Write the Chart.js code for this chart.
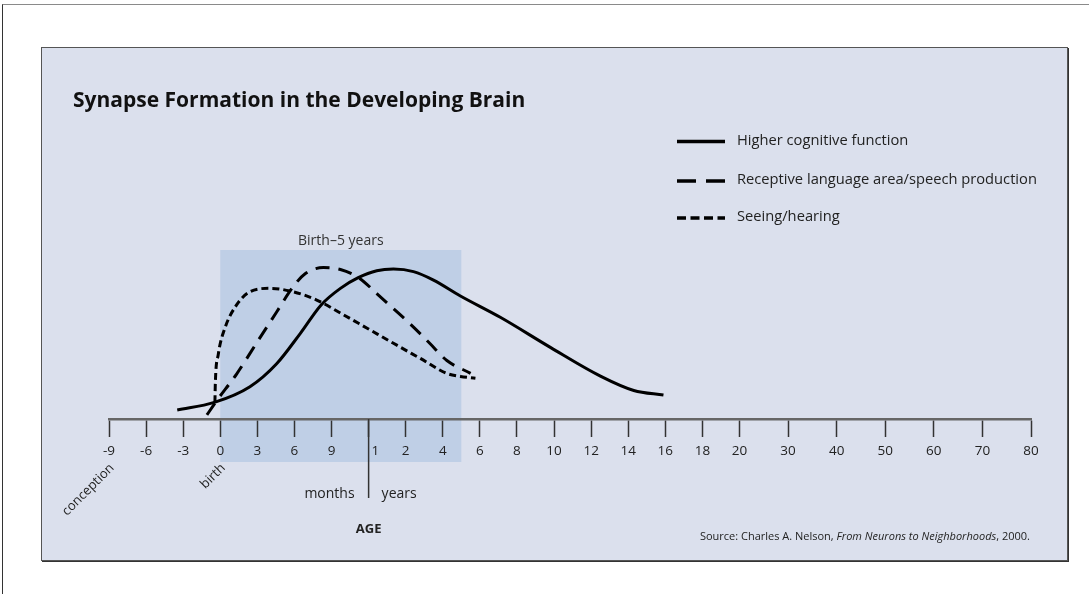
<!DOCTYPE html>
<html>
<head>
<meta charset="utf-8">
<script src="https://cdn.jsdelivr.net/npm/chart.js@4.4.1/dist/chart.umd.min.js"></script>
<style>
	html, body { margin: 0; padding: 0; background: #fff; }
	body { width: 1089px; height: 594px; position: relative; overflow: hidden; }
	#frame {
		position: absolute; left: 2px; top: 4px; right: -2px; bottom: -2px;
		border-top: 1px solid #8a8a8a; border-left: 1px solid #333;
	}
	#panel {
		position: absolute; left: 41px; top: 47px; width: 1025px; height: 512px;
		background: #dbe0ed; border: 1px solid #555;
		box-shadow: 1px 1px 0 #333;
	}
	#chart { position: absolute; left: 0; top: 0; }
</style>
</head>
<body>
<div id="frame"></div>
<div id="panel"></div>
<canvas id="chart" width="1089" height="594"></canvas>
<script>
// x axis: ages in years, labelled in months before the 1-year mark
const TICK_AGES = [-0.75, -0.5, -0.25, 0, 0.25, 0.5, 0.75, 1, 2, 4, 6, 8, 10, 12, 14, 16, 18, 20, 30, 40, 50, 60, 70, 80];
const TICK_LABELS = [`-9`, `-6`, `-3`, `0`, `3`, `6`, `9`, `1`, `2`, `4`, `6`, `8`, `10`, `12`, `14`, `16`, `18`, `20`, `30`, `40`, `50`, `60`, `70`, `80`];

// series (age in years, relative synapse formation)
const COGNITIVE_AGE = [-0.29, -0.04, 0.2, 0.38, 0.54, 0.68, 0.81, 0.93, 1.22, 1.67, 2.42, 3.5, 4.95, 7.1, 9.8, 12.5, 14.3, 15.9];
const COGNITIVE_VAL = [5.3, 9.8, 19.1, 32.7, 50.7, 67.5, 77.3, 83.6, 87.7, 88.7, 87.2, 82.2, 72.8, 60.2, 42.4, 25.4, 16.9, 14.2];

const LANGUAGE_AGE = [-0.09, -0.025, 0.11, 0.245, 0.38, 0.49, 0.57, 0.695, 0.81, 0.94, 1.22, 1.67, 2.42, 3.32, 4.22, 5.5];
const LANGUAGE_VAL = [2.4, 10.7, 26.6, 45, 63.3, 78.1, 85.8, 89.6, 88.5, 83.2, 74.2, 65.3, 54.4, 44.5, 34.6, 27];

const SEEING_AGE = [-0.036, -0.033, -0.014, 0.031, 0.11, 0.2, 0.335, 0.49, 0.65, 0.81, 0.99, 1.67, 2.78, 4.22, 4.95, 5.76];
const SEEING_VAL = [10, 21.9, 37.9, 53.7, 67.5, 75.3, 77.3, 75.3, 70.4, 62.7, 53.7, 44.8, 35.9, 27, 25.2, 24.1];

const BAND_AGES = [0, 5];

const FONT = `"Open Sans", "Noto Sans", sans-serif`;

// ticks sit on equal slots up to 20, then a bit wider apart
function tickSlot(i) {
	return i <= 17 ? i : 17 + 1.31 * (i - 17);
};

function ageToSlot(age) {
	let i = 0;
	while (i < TICK_AGES.length - 2 && age > TICK_AGES[i + 1]) {
		i++;
	};
	const a0 = TICK_AGES[i], a1 = TICK_AGES[i + 1];
	const s0 = tickSlot(i), s1 = tickSlot(i + 1);
	return s0 + (age - a0) / (a1 - a0) * (s1 - s0);
};

function toPoints(ages, vals) {
	return ages.map((age, i) => ({ x: ageToSlot(age), y: vals[i] }));
};

const series = [
	{ label: `Higher cognitive function`, ages: COGNITIVE_AGE, vals: COGNITIVE_VAL, dash: [], legendDash: [] },
	{ label: `Receptive language area/speech production`, ages: LANGUAGE_AGE, vals: LANGUAGE_VAL, dash: [14, 9], legendDash: [19, 10] },
	{ label: `Seeing/hearing`, ages: SEEING_AGE, vals: SEEING_VAL, dash: [7, 4], legendDash: [9, 4.5] },
];

const decor = {
	id: `decor`,
	beforeDraw(chart) {
		const { ctx, scales: { x, y } } = chart;
		const left = x.getPixelForValue(ageToSlot(BAND_AGES[0]));
		const right = x.getPixelForValue(ageToSlot(BAND_AGES[1]));
		const top = y.getPixelForValue(100);
		const bottom = y.getPixelForValue(0) + 43;
		ctx.save();
		ctx.fillStyle = `#bfcfe6`;
		ctx.fillRect(left, top, right - left, bottom - top);
		ctx.fillStyle = `#333`;
		ctx.font = `14px ${FONT}`;
		ctx.textAlign = `center`;
		ctx.textBaseline = `alphabetic`;
		ctx.fillText(`Birth\u20135 years`, (left + right) / 2, top - 5);
		ctx.restore();
	},
	afterDraw(chart) {
		const { ctx, scales: { x, y } } = chart;
		const axisY = y.getPixelForValue(0);
		ctx.save();

		// title
		ctx.fillStyle = `#111`;
		ctx.font = `bold 21px ${FONT}`;
		ctx.textAlign = `left`;
		ctx.textBaseline = `alphabetic`;
		ctx.fillText(`Synapse Formation in the Developing Brain`, 73, 107);

		// legend
		const rows = [141.5, 181, 218];
		chart.data.datasets.forEach((ds, i) => {
			ctx.strokeStyle = `#000`;
			ctx.lineWidth = 3.5;
			ctx.setLineDash(series[i].legendDash);
			ctx.beginPath();
			ctx.moveTo(677, rows[i]);
			ctx.lineTo(725, rows[i]);
			ctx.stroke();
			ctx.setLineDash([]);
			ctx.fillStyle = `#222`;
			ctx.font = `14.7px ${FONT}`;
			ctx.textBaseline = `middle`;
			ctx.fillText(ds.label, 737, rows[i] - 1);
		});

		// months | years divider
		const oneYear = x.getPixelForValue(ageToSlot(1));
		ctx.strokeStyle = `#333`;
		ctx.lineWidth = 1.5;
		ctx.beginPath();
		ctx.moveTo(oneYear, axisY);
		ctx.lineTo(oneYear, 498);
		ctx.stroke();
		ctx.fillStyle = `#222`;
		ctx.font = `13.5px ${FONT}`;
		ctx.textAlign = `left`;
		ctx.textBaseline = `middle`;
		ctx.fillText(`1`, oneYear + 3, 451);
		ctx.font = `14px ${FONT}`;
		ctx.textAlign = `right`;
		ctx.fillText(`months`, oneYear - 14, 494);
		ctx.textAlign = `left`;
		ctx.fillText(`years`, oneYear + 13, 494);

		ctx.font = `bold 13px ${FONT}`;
		ctx.textAlign = `center`;
		ctx.fillText(`AGE`, oneYear, 529);

		// rotated notes under conception and birth
		const notes = [[`conception`, TICK_AGES[0]], [`birth`, 0]];
		ctx.font = `13px ${FONT}`;
		for (const [text, age] of notes) {
			const px = x.getPixelForValue(ageToSlot(age));
			ctx.save();
			ctx.translate(px + 3, 466);
			ctx.rotate(-Math.PI / 4);
			ctx.textAlign = `right`;
			ctx.textBaseline = `middle`;
			ctx.fillText(text, 0, 0);
			ctx.restore();
		};

		// source
		ctx.textBaseline = `alphabetic`;
		ctx.textAlign = `left`;
		const parts = [
			[`Source: Charles A. Nelson, `, `11px`],
			[`From Neurons to Neighborhoods`, `italic 11px`],
			[`, 2000.`, `11px`],
		];
		let total = 0;
		for (const [t, f] of parts) {
			ctx.font = `${f} ${FONT}`;
			total += ctx.measureText(t).width;
		};
		let sx = 1030 - total;
		for (const [t, f] of parts) {
			ctx.font = `${f} ${FONT}`;
			ctx.fillText(t, sx, 540);
			sx += ctx.measureText(t).width;
		};
		ctx.restore();
	},
};

new Chart(document.getElementById(`chart`), {
	type: `line`,
	data: {
		datasets: series.map(s => ({
			label: s.label,
			data: toPoints(s.ages, s.vals),
			borderColor: `#000`,
			borderWidth: 3,
			borderDash: s.dash,
			borderCapStyle: `butt`,
			cubicInterpolationMode: `monotone`,
			pointRadius: 0,
			fill: false,
		})),
	},
	options: {
		responsive: false,
		devicePixelRatio: 1,
		animation: false,
		layout: {
			padding: { left: 109, right: 58, top: 250, bottom: 135 },
		},
		plugins: {
			legend: { display: false },
			tooltip: { enabled: false },
		},
		scales: {
			x: {
				type: `linear`,
				min: tickSlot(0),
				max: tickSlot(TICK_AGES.length - 1),
				afterBuildTicks(scale) {
					scale.ticks = TICK_AGES.map((_, i) => ({ value: tickSlot(i) }));
				},
				afterFit(scale) {
					scale.height = 40;
				},
				grid: {
					drawOnChartArea: false,
					drawTicks: true,
					tickLength: 18,
					tickColor: `#333`,
					tickWidth: 1.5,
				},
				border: { color: `#666`, width: 2.5 },
				ticks: {
					autoSkip: false,
					maxRotation: 0,
					padding: 6,
					color: `#222`,
					font: { family: FONT, size: 13.5 },
					callback: (value, index) => (TICK_LABELS[index] === `1` ? `` : TICK_LABELS[index]),
				},
			},
			y: {
				display: false,
				min: 0,
				max: 100,
			},
		},
	},
	plugins: [decor],
});
</script>
</body>
</html>
